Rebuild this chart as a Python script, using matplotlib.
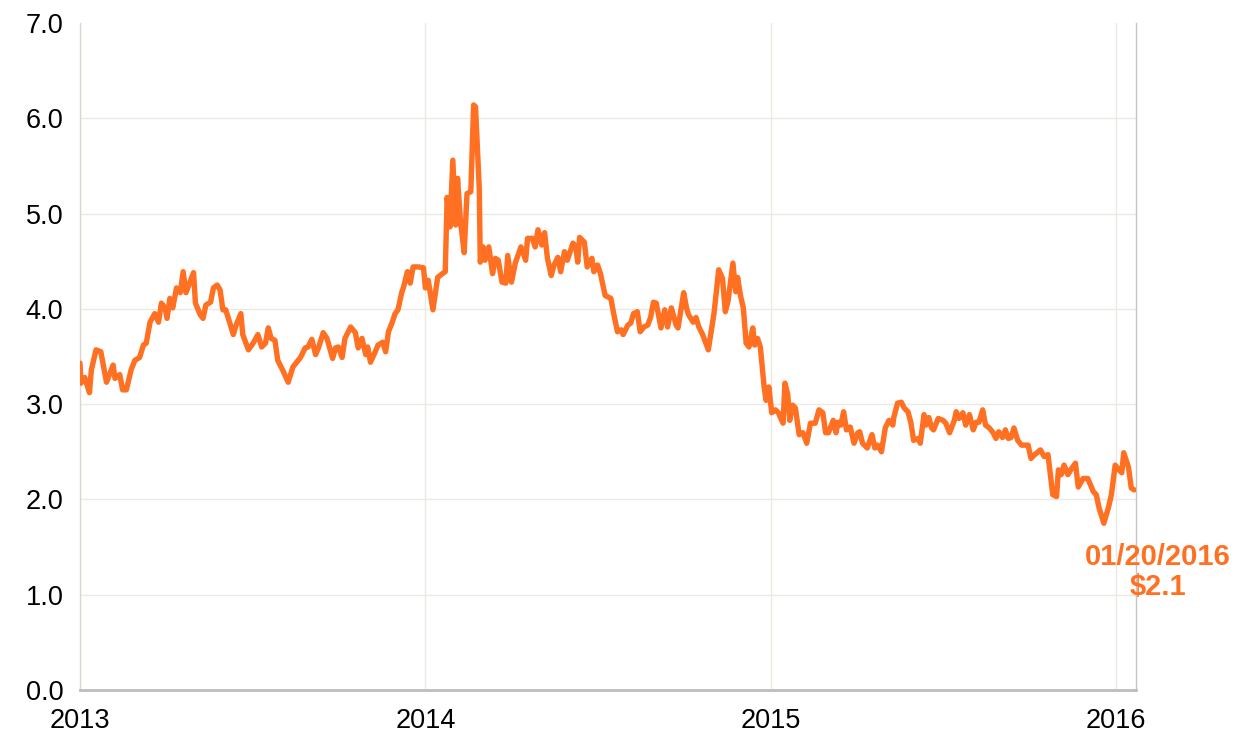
import matplotlib
matplotlib.use("Agg")
import matplotlib.pyplot as plt
import numpy as np
import pandas as pd

plt.rcParams['font.family'] = ['Liberation Sans', 'DejaVu Sans']

# Days since 2013-01-01
days = [0, 1, 5, 10, 12, 17, 22, 28, 32, 35, 37, 42, 45, 49, 54, 58, 63, 67, 70, 74,
        79, 83, 86, 90, 92, 95, 98, 102, 106, 109, 112, 115, 120, 122, 127, 130, 133, 138, 141, 145,
        148, 151, 154, 159, 162, 165, 170, 172, 178, 183, 188, 192, 196, 199, 202, 206, 209, 215, 220, 225,
        233, 238, 241, 245, 249, 252, 257, 261, 267, 270, 273, 277, 280, 286, 291, 294, 298, 302, 304, 307,
        312, 315, 320, 323, 326, 330, 333, 336, 340, 342, 346, 349, 352, 358, 363, 365, 368, 373, 378, 383,
        386, 388, 391, 394, 397, 399, 402, 406, 409, 413, 416, 418, 422, 423, 426, 428, 432, 436, 439, 442,
        446, 450, 452, 456, 460, 466, 471, 473, 478, 481, 484, 488, 491, 494, 498, 501, 505, 508, 512, 515,
        521, 524, 526, 528, 533, 536, 541, 543, 547, 550, 555, 561, 564, 568, 572, 574, 579, 582, 585, 589,
        592, 596, 600, 603, 606, 609, 614, 618, 621, 625, 630, 632, 638, 641, 643, 648, 651, 654, 658, 661,
        664, 670, 675, 679, 682, 685, 690, 693, 695, 698, 701, 704, 707, 711, 713, 716, 719, 723, 725, 728,
        731, 735, 738, 743, 745, 748, 750, 753, 756, 760, 764, 768, 772, 777, 781, 785, 788, 791, 796, 799,
        801, 804, 807, 810, 814, 818, 822, 824, 827, 832, 837, 840, 843, 847, 851, 855, 859, 860, 864, 868,
        871, 875, 878, 881, 886, 888, 892, 894, 897, 900, 902, 907, 912, 915, 919, 924, 926, 929, 933, 936,
        940, 944, 947, 950, 954, 957, 961, 965, 968, 971, 975, 978, 981, 984, 987, 991, 995, 999, 1002, 1005,
        1009, 1015, 1019, 1023, 1028, 1032, 1034, 1037, 1040, 1044, 1047, 1052, 1055, 1060, 1065, 1071, 1074, 1077, 1082, 1087,
        1090, 1094, 1098, 1101, 1103, 1108, 1111, 1114]

prices = [3.43, 3.22, 3.28, 3.12, 3.36, 3.57, 3.55, 3.23, 3.33, 3.41, 3.27, 3.31, 3.15, 3.15, 3.36, 3.46, 3.49, 3.62, 3.64, 3.86,
          3.95, 3.86, 4.06, 4.01, 3.90, 4.11, 4.01, 4.22, 4.17, 4.39, 4.17, 4.25, 4.38, 4.06, 3.94, 3.90, 4.04, 4.07, 4.22, 4.25,
          4.20, 3.99, 3.99, 3.83, 3.73, 3.83, 3.95, 3.73, 3.57, 3.64, 3.73, 3.60, 3.64, 3.80, 3.69, 3.67, 3.46, 3.34, 3.23, 3.39,
          3.49, 3.59, 3.60, 3.68, 3.52, 3.59, 3.75, 3.69, 3.48, 3.59, 3.60, 3.49, 3.69, 3.81, 3.75, 3.59, 3.69, 3.52, 3.60, 3.44,
          3.55, 3.62, 3.65, 3.55, 3.76, 3.86, 3.95, 3.99, 4.17, 4.23, 4.39, 4.27, 4.44, 4.44, 4.43, 4.22, 4.30, 3.99, 4.33, 4.37,
          4.39, 5.17, 4.86, 5.56, 4.88, 5.37, 4.93, 4.59, 5.21, 5.23, 6.14, 6.12, 5.25, 4.49, 4.65, 4.51, 4.65, 4.37, 4.53, 4.51,
          4.28, 4.27, 4.56, 4.28, 4.48, 4.65, 4.51, 4.74, 4.74, 4.65, 4.83, 4.67, 4.80, 4.53, 4.35, 4.46, 4.54, 4.39, 4.60, 4.51,
          4.69, 4.65, 4.49, 4.75, 4.70, 4.44, 4.53, 4.39, 4.46, 4.37, 4.14, 4.11, 3.95, 3.76, 3.78, 3.73, 3.83, 3.85, 3.95, 3.97,
          3.76, 3.81, 3.83, 3.91, 4.07, 4.06, 3.80, 3.99, 3.81, 4.01, 3.83, 3.80, 4.17, 4.01, 3.94, 3.86, 3.91, 3.81, 3.73, 3.65,
          3.57, 3.95, 4.41, 4.32, 3.97, 4.09, 4.48, 4.18, 4.33, 4.14, 4.01, 3.64, 3.60, 3.80, 3.62, 3.69, 3.60, 3.18, 3.04, 3.18,
          2.91, 2.94, 2.91, 2.80, 3.22, 3.10, 2.83, 2.99, 2.96, 2.68, 2.70, 2.59, 2.80, 2.80, 2.94, 2.91, 2.70, 2.70, 2.83, 2.70,
          2.81, 2.78, 2.92, 2.73, 2.76, 2.59, 2.70, 2.71, 2.59, 2.54, 2.68, 2.54, 2.57, 2.50, 2.75, 2.83, 2.78, 2.86, 3.01, 3.02,
          2.96, 2.92, 2.81, 2.62, 2.64, 2.59, 2.89, 2.78, 2.86, 2.75, 2.73, 2.85, 2.83, 2.80, 2.70, 2.83, 2.92, 2.85, 2.91, 2.78,
          2.89, 2.73, 2.81, 2.81, 2.94, 2.78, 2.75, 2.70, 2.64, 2.71, 2.65, 2.73, 2.64, 2.65, 2.75, 2.62, 2.57, 2.57, 2.57, 2.43,
          2.47, 2.52, 2.45, 2.47, 2.05, 2.03, 2.31, 2.26, 2.36, 2.26, 2.31, 2.38, 2.13, 2.22, 2.22, 2.08, 2.05, 1.91, 1.75, 1.92,
          2.05, 2.36, 2.31, 2.28, 2.49, 2.34, 2.12, 2.10]

year_ticks = ['2013', '2014', '2015', '2016']
y_ticks = [0, 1, 2, 3, 4, 5, 6, 7]
label_date = '01/20/2016'
label_value = '$2.1'

ORANGE = '#FF7022'
GRID = '#ECEAE0'

dates = pd.Timestamp('2013-01-01') + pd.to_timedelta(days, unit='D')

fig = plt.figure(figsize=(12.36, 7.35), dpi=100)
ax = fig.add_axes([80 / 1236, 45 / 735, 1056 / 1236, 667 / 735])

ax.plot(dates, prices, color=ORANGE, linewidth=3.9, solid_joinstyle='round',
        solid_capstyle='round', zorder=3)

ax.set_xlim(pd.Timestamp('2013-01-01'), pd.Timestamp('2016-01-22'))
ax.set_ylim(0, 7)
ax.set_yticks(y_ticks)
ax.set_yticklabels([f'{v:.1f}' for v in y_ticks])
ax.set_xticks([pd.Timestamp(f'{y}-01-01') for y in year_ticks])
ax.set_xticklabels(year_ticks)

ax.grid(True, color=GRID, linewidth=1.0, zorder=0)
ax.yaxis.get_gridlines()[-1].set_visible(False)
ax.tick_params(axis='both', length=0, labelsize=19.5, colors='#000000')
ax.tick_params(axis='y', pad=12)
ax.tick_params(axis='x', pad=13)

ax.spines['top'].set_visible(False)
ax.spines['left'].set_color('#D9D8CC')
ax.spines['left'].set_linewidth(1.0)
ax.spines['right'].set_color('#C4C4C4')
ax.spines['right'].set_linewidth(1.0)
ax.spines['bottom'].set_color('#BDBDBD')
ax.spines['bottom'].set_linewidth(2.0)

ax.annotate(f'{label_date}\n{label_value}', xy=(dates[-1], prices[-1]),
            xytext=(17, -59), textcoords='offset points', ha='center', va='center',
            color=ORANGE, fontsize=21, fontweight='bold', linespacing=1.1,
            annotation_clip=False)

fig.savefig('out.png', dpi=100)
